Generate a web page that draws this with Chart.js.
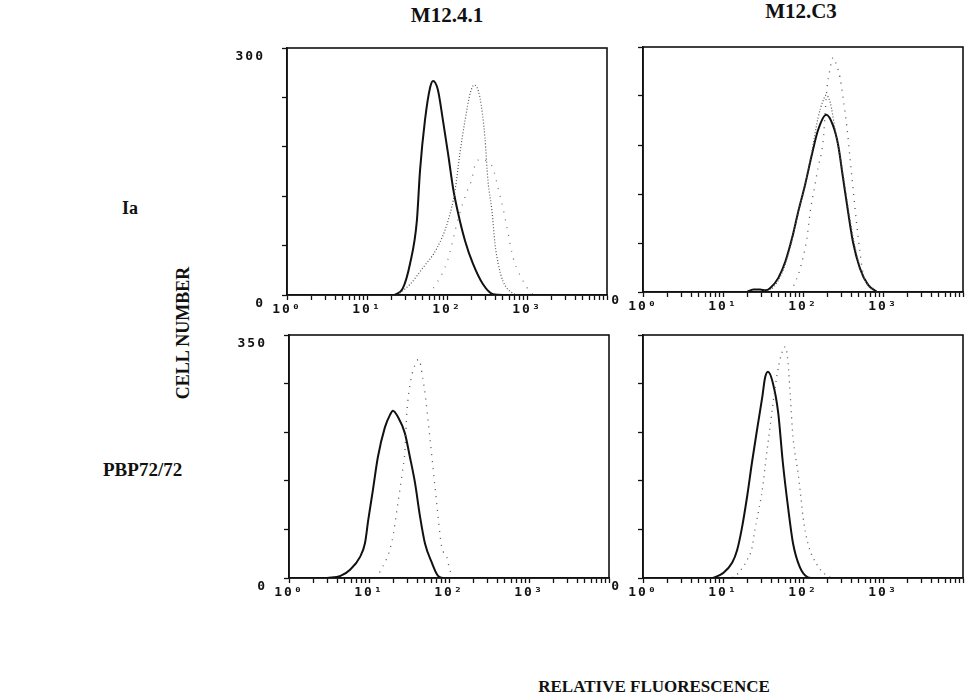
<!DOCTYPE html>
<html lang="en">
<head>
<meta charset="UTF-8">
<title>Cell number vs relative fluorescence</title>
<script src="https://cdn.jsdelivr.net/npm/chart.js@4.4.1/dist/chart.umd.min.js"></script>
<style>
  body { margin: 0; width: 972px; height: 698px; background: #fff; position: relative; overflow: hidden; }
  .panel { position: absolute; width: 390px; }
  .txt { position: absolute; font-family: "Liberation Serif", "Times New Roman", serif; font-weight: bold; color: #111; white-space: nowrap; line-height: 1; }
</style>
</head>
<body>
  <div class="txt" style="left:447px; top:5px; font-size:21px; transform:translateX(-50%);">M12.4.1</div>
  <div class="txt" style="left:801px; top:1px; font-size:21px; transform:translateX(-50%);">M12.C3</div>
  <div class="txt" style="left:122px; top:199px; font-size:18px;">Ia</div>
  <div class="txt" style="left:103px; top:460px; font-size:19px;">PBP72/72</div>
  <div class="txt" style="left:183px; top:333px; font-size:18px; transform:translate(-50%,-50%) rotate(-90deg);">CELL NUMBER</div>
  <div class="txt" style="left:654px; top:678px; font-size:17px; transform:translateX(-50%);">RELATIVE FLUORESCENCE</div>

  <div class="panel" style="left:230px; top:40px; height:291px;"><canvas id="tl"></canvas></div>
  <div class="panel" style="left:586px; top:39px; height:289px;"><canvas id="tr"></canvas></div>
  <div class="panel" style="left:232px; top:327px; height:287px;"><canvas id="bl"></canvas></div>
  <div class="panel" style="left:586px; top:327px; height:287px;"><canvas id="br"></canvas></div>

<script>
// axis setup
const decades = [1, 10, 100, 1000, 10000];
const decadeLabels = ['10\u2070', '10\u00b9', '10\u00b2', '10\u00b3', ''];
const minorSteps = [2, 3, 4, 5, 6, 7, 8, 9];
const topYMax = 300, topYStep = 60;
const bottomYMax = 350, bottomYStep = 70;

// M12.4.1 / Ia
const tlSolidX = [22, 28, 34.5, 42, 46, 53, 61.5, 67, 77, 89, 103, 119, 138, 168, 211, 282, 376, 531];
const tlSolidY = [0, 8, 38, 90, 151, 212, 252, 260, 249, 212, 172, 130, 99, 66, 38, 13, 1, 0];
const tlDotX = [24, 34.5, 50, 75, 103, 126, 145, 168, 195, 218, 258, 298, 325, 365, 398, 437, 500, 668, 815];
const tlDotY = [0, 13, 33, 57, 90, 127, 172, 212, 245, 255, 240, 191, 139, 102, 62, 38, 17, 2, 0];
const tlSparseX = [60, 100, 140, 183, 205, 218, 260, 320, 376, 437, 500, 562, 676, 750, 1000, 1200];
const tlSparseY = [0, 40, 95, 129, 141, 154, 165, 162, 154, 129, 106, 82, 44, 32, 9, 0];

// M12.C3 / Ia
const trSolidX = [20, 24, 29, 34, 39, 49, 60, 73, 87, 106, 129, 154, 195, 237, 275, 316, 366, 422, 515, 648, 841];
const trSolidY = [0, 3, 3, 2, 5, 17, 37, 66, 98, 131, 168, 198, 217, 204, 180, 140, 98, 61, 29, 9, 0];
const trDotX = [25, 39, 49, 60, 73, 87, 106, 129, 154, 178, 195, 219, 251, 288, 331, 380, 447, 537, 676, 851];
const trDotY = [0, 3, 14, 34, 64, 97, 132, 172, 213, 234, 241, 232, 200, 168, 132, 93, 55, 25, 6, 0];
const trSparseX = [70, 87, 100, 112, 123, 141, 154, 178, 200, 215, 237, 266, 290, 316, 355, 387, 422, 470, 515, 560, 727, 850];
const trSparseY = [0, 21, 42, 66, 98, 131, 152, 184, 251, 270, 287, 276, 263, 239, 201, 164, 127, 82, 49, 24, 6, 0];

// M12.4.1 / PBP72/72
const blSolidX = [3, 4.4, 5.8, 7.7, 8.9, 9.8, 11.2, 12.9, 15.8, 18.3, 19.9, 23, 28, 32.5, 37.6, 43.5, 50, 61, 73, 85];
const blSolidY = [0, 3, 12, 30, 50, 84, 127, 174, 217, 235, 241, 232, 209, 174, 137, 88, 50, 22, 3, 0];
const blDotX = [12, 13.7, 19.3, 23, 26, 28, 29.7, 32.5, 37, 42, 47, 51, 56, 63, 67, 71, 81, 94, 100, 110];
const blDotY = [0, 9, 52, 108, 151, 180, 238, 278, 305, 315, 288, 259, 216, 160, 130, 102, 45, 30, 16, 0];

// M12.C3 / PBP72/72
const brSolidX = [7.5, 10, 13, 15, 17.3, 20, 23, 26.6, 31, 33.5, 36.5, 42, 49, 56, 65, 75, 91, 115, 130];
const brSolidY = [0, 7, 22, 40, 73, 117, 166, 213, 261, 288, 297, 281, 238, 166, 102, 50, 16, 1, 0];
const brDotX = [11, 13.3, 17.3, 20, 23, 25, 28, 31, 34, 38, 42, 47, 53, 60, 65, 69, 75, 87, 94, 100, 115, 150, 195, 230];
const brDotY = [0, 1, 14, 26, 43, 69, 98, 127, 166, 210, 250, 290, 320, 333, 310, 266, 203, 150, 117, 88, 50, 19, 4, 0];

function pts(xs, ys) {
  return xs.map((x, i) => ({ x: x, y: ys[i] }));
}

function solid(xs, ys) {
  return { data: pts(xs, ys), borderColor: '#111', borderWidth: 2, pointRadius: 0, tension: 0.4, cubicInterpolationMode: 'monotone', fill: false };
}

function dotted(xs, ys, gap, width, color) {
  return { data: pts(xs, ys), borderColor: color, borderWidth: width, borderDash: [1, gap], pointRadius: 0, tension: 0.4, cubicInterpolationMode: 'monotone', fill: false };
}

// box around the plot area, plus wide spacing for the printer-style tick digits
const frame = {
  id: 'frame',
  beforeDraw(chart) {
    chart.ctx.letterSpacing = '2px';
  },
  afterDraw(chart) {
    const a = chart.chartArea, c = chart.ctx;
    c.save();
    c.strokeStyle = '#111';
    c.lineWidth = 1.6;
    c.strokeRect(a.left, a.top, a.right - a.left, a.bottom - a.top);
    c.restore();
  }
};

const tickFont = { family: '"DejaVu Sans Mono", monospace', size: 13, weight: 'bold' };

function makePanel(id, yMax, yStep, showTop, datasets) {
  return new Chart(document.getElementById(id), {
    type: 'line',
    data: { datasets: datasets },
    plugins: [frame],
    options: {
      responsive: true,
      maintainAspectRatio: false,
      animation: false,
      layout: { padding: { top: 8, right: 13, left: 0, bottom: 0 } },
      plugins: { legend: { display: false }, tooltip: { enabled: false } },
      scales: {
        x: {
          type: 'logarithmic',
          min: 1,
          max: 10000,
          afterBuildTicks(scale) {
            const t = [];
            decades.forEach(d => {
              t.push({ value: d, major: true });
              if (d < 10000) minorSteps.forEach(m => t.push({ value: d * m }));
            });
            scale.ticks = t;
          },
          afterFit(scale) {
            scale.height = 36;
            scale.paddingLeft = 0;
            scale.paddingRight = 0;
          },
          grid: { drawOnChartArea: false, drawTicks: true, tickLength: 5, tickColor: '#111', tickWidth: 1.3 },
          border: { color: '#111', width: 1.6 },
          ticks: {
            autoSkip: false,
            maxRotation: 0,
            padding: 2,
            color: '#111',
            font: tickFont,
            callback: (v) => {
              const k = decades.indexOf(v);
              return k >= 0 ? decadeLabels[k] : '';
            }
          }
        },
        y: {
          min: 0,
          max: yMax,
          afterFit(scale) {
            scale.width = 57;
            scale.paddingTop = 0;
            scale.paddingBottom = 0;
          },
          grid: { drawOnChartArea: false, drawTicks: true, tickLength: 5, tickColor: '#111', tickWidth: 1.3 },
          border: { color: '#111', width: 1.6 },
          ticks: {
            stepSize: yStep,
            padding: 17,
            labelOffset: 9,
            color: '#111',
            font: tickFont,
            callback: (v) => (v === 0 || (showTop && v === yMax)) ? String(v) : ''
          }
        }
      }
    }
  });
}

makePanel('tl', topYMax, topYStep, true, [
  dotted(tlSparseX, tlSparseY, 7, 1.3, '#777'),
  dotted(tlDotX, tlDotY, 2, 1.2, '#555'),
  solid(tlSolidX, tlSolidY)
]);
makePanel('tr', topYMax, topYStep, false, [
  dotted(trSparseX, trSparseY, 6, 1.3, '#555'),
  dotted(trDotX, trDotY, 2, 1.2, '#555'),
  solid(trSolidX, trSolidY)
]);
makePanel('bl', bottomYMax, bottomYStep, true, [
  dotted(blDotX, blDotY, 6, 1.3, '#555'),
  solid(blSolidX, blSolidY)
]);
makePanel('br', bottomYMax, bottomYStep, false, [
  dotted(brDotX, brDotY, 5, 1.3, '#555'),
  solid(brSolidX, brSolidY)
]);
</script>
</body>
</html>
